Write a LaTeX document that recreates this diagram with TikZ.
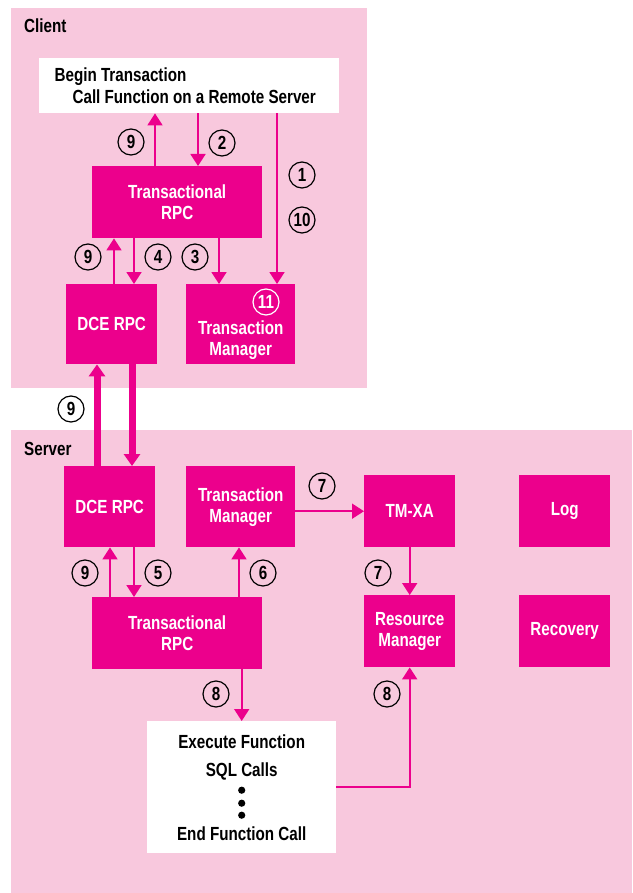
\documentclass[tikz,border=0pt]{standalone}
\usepackage{fontspec}
\setmainfont{Liberation Sans}[FakeStretch=0.8]
\usepackage{tikz}
\usetikzlibrary{positioning,arrows.meta,calc}
\definecolor{mag}{HTML}{EC008C}
\definecolor{panelbg}{HTML}{F8C8DD}
\tikzset{
  panel/.style={rectangle,fill=panelbg,anchor=north west,inner sep=0pt},
  blk/.style={rectangle,fill=mag,text=white,align=center,anchor=north west,
    inner sep=0pt,font=\bfseries\fontsize{19}{21}\selectfont},
  wbox/.style={rectangle,fill=white,anchor=north west,inner sep=0pt,
    font=\bfseries\fontsize{19}{22}\selectfont},
  ar/.style={-{Triangle[length=12pt,width=15pt]},line width=1.8pt,draw=mag},
  arw/.style={-{Triangle[length=12pt,width=16pt]},line width=7pt,draw=mag},
  num/.style={circle,draw=black,line width=1.2pt,inner sep=0pt,minimum size=26pt,
    font=\bfseries\fontsize{19}{19}\selectfont},
  ttl/.style={anchor=base west,inner sep=0pt,font=\bfseries\fontsize{19}{19}\selectfont},
}
\begin{document}
\begin{tikzpicture}[x=1pt,y=-1pt]
  \useasboundingbox (0,0) rectangle (632,893);
  % client side
  \node[panel,minimum width=356,minimum height=380] (client) at (11,8) {};
  \node[ttl] (clientlbl) at (24,33) {Client};
  \node[wbox,minimum width=300,minimum height=55,align=left] (begin) at (39,58)
    {Begin Transaction\\\hspace*{18pt}Call Function on a Remote Server\hspace*{8pt}};
  \node[blk,minimum width=170,minimum height=72] (trpcc) at (92,166) {Transactional\\RPC};
  \node[blk,minimum width=91,minimum height=80] (dcec) at (66,284) {DCE RPC};
  \node[blk,minimum width=109,minimum height=80] (tmc) at (186,284)
    {\rule{0pt}{46pt}Transaction\\Manager};
  \node[num,draw=white,text=white] (n11) at (266,302) {11};
  \draw[ar] (trpcc.north -| 155,0) -- (begin.south -| 155,0);
  \draw[ar] (begin.south -| 198,0) -- (trpcc.north -| 198,0);
  \draw[ar] (begin.south -| 277,0) -- (tmc.north -| 277,0);
  \draw[ar] (dcec.north -| 114,0) -- (trpcc.south -| 114,0);
  \draw[ar] (trpcc.south -| 134,0) -- (dcec.north -| 134,0);
  \draw[ar] (trpcc.south -| 219,0) -- (tmc.north -| 219,0);
  \node[num] (c9a) at (131,142) {9};
  \node[num] (c2) at (222,143) {2};
  \node[num] (c1) at (302,175) {1};
  \node[num] (c10) at (302,220) {10};
  \node[num] (c9b) at (88,257) {9};
  \node[num] (c4) at (158,257) {4};
  \node[num] (c3) at (195,257) {3};
  % server side
  \node[panel,minimum width=621,minimum height=463] (server) at (11,430) {};
  \node[ttl] (serverlbl) at (24,455) {Server};
  \node[blk,minimum width=91,minimum height=81] (dces) at (64,466) {DCE RPC};
  \node[blk,minimum width=109,minimum height=81] (tms) at (186,466) {Transaction\\Manager};
  \node[blk,minimum width=91,minimum height=72] (tmxa) at (364,475) {TM-XA};
  \node[blk,minimum width=91,minimum height=72] (log) at (519,475) {Log};
  \node[blk,minimum width=170,minimum height=72] (trpcs) at (92,597) {Transactional\\RPC};
  \node[blk,minimum width=91,minimum height=72] (rm) at (364,595) {Resource\\Manager};
  \node[blk,minimum width=91,minimum height=72] (recov) at (519,595) {Recovery};
  \node[wbox,minimum width=189,minimum height=132,align=center,
    font=\bfseries\fontsize{19}{28}\selectfont] (exec) at (147,721)
    {Execute Function\\SQL Calls\\[36pt]End Function Call};
  \foreach \dy in {-13,0,12}
    \fill ([yshift=-\dy pt]exec.center) ++(0,16) circle (3.6);
  % client <-> server
  \draw[arw] (dces.north -| 97,0) -- (dcec.south -| 97,0);
  \draw[arw] (dcec.south -| 132,0) -- (dces.north -| 132,0);
  \node[num] (x9) at (71,409) {9};
  \draw[ar] (trpcs.north -| 110,0) -- (dces.south -| 110,0);
  \draw[ar] (dces.south -| 134,0) -- (trpcs.north -| 134,0);
  \draw[ar] (trpcs.north -| 239,0) -- (tms.south -| 239,0);
  \draw[ar] (tms.east |- tmxa.west) -- (tmxa.west);
  \draw[ar] (tmxa.south) -- (rm.north);
  \draw[ar] (trpcs.south -| exec.north) -- (exec.north);
  \draw[ar] (exec.east) -| (rm.south);
  \node[num] (s7a) at (322,486) {7};
  \node[num] (s9) at (85,573) {9};
  \node[num] (s5) at (158,573) {5};
  \node[num] (s6) at (263,573) {6};
  \node[num] (s7b) at (378,573) {7};
  \node[num] (s8a) at (216,694) {8};
  \node[num] (s8b) at (387,694) {8};
\end{tikzpicture}
\end{document}
